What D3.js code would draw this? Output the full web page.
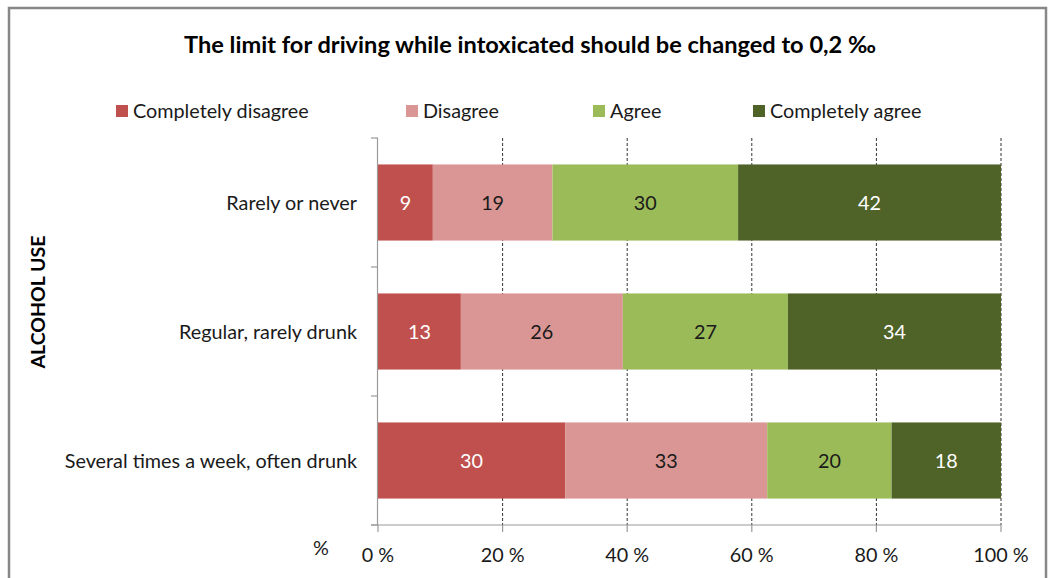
<!DOCTYPE html>
<html>
<head>
<meta charset="utf-8">
<script src="https://cdn.jsdelivr.net/npm/d3@7"></script>
<style>
  html, body { margin: 0; padding: 0; background: #fff; }
  svg { display: block; font-family: Lato, "Open Sans", sans-serif; }
</style>
</head>
<body>
<svg id="chart" width="1048" height="578"></svg>
<script>
// ---- data ----
const title = "The limit for driving while intoxicated should be changed to 0,2 \u2030";
const categories = ["Rarely or never", "Regular, rarely drunk", "Several times a week, often drunk"];
const seriesNames = ["Completely disagree", "Disagree", "Agree", "Completely agree"];
const completelyDisagree = [8.8, 13.3, 30.1];
const disagree = [19.2, 26.0, 32.5];
const agree = [29.8, 26.5, 20.0];
const completelyAgree = [42.2, 34.2, 17.6];
const xTicks = [0, 20, 40, 60, 80, 100];
const colors = ["#C0504D", "#D99694", "#9BBB59", "#4F6228"];
const labelColors = ["#ffffff", "#1a1a1a", "#1a1a1a", "#ffffff"];
const yAxisTitle = "ALCOHOL USE";
const xAxisTitle = "%";

const seriesValues = [completelyDisagree, disagree, agree, completelyAgree];
const rows = categories.map((c, i) => {
  const r = { category: c };
  seriesNames.forEach((s, j) => r[s] = seriesValues[j][i]);
  return r;
});

const svg = d3.select("#chart");
const plot = { left: 378, right: 1001, top: 138, bottom: 525 };
const fs = 19.8;

// frame
svg.append("rect").attr("x", 9).attr("y", 8).attr("width", 1037).attr("height", 600)
  .attr("fill", "#fff").attr("stroke", "#878787").attr("stroke-width", 2.5);

// title
svg.append("text").attr("x", 530).attr("y", 53).attr("text-anchor", "middle")
  .attr("font-size", 23.6).attr("font-weight", "bold").attr("fill", "#000").text(title);

// legend
const legendX = [116, 406, 593, 753];
const lg = svg.append("g");
seriesNames.forEach((s, i) => {
  lg.append("rect").attr("x", legendX[i]).attr("y", 105).attr("width", 12).attr("height", 12).attr("fill", colors[i]);
  lg.append("text").attr("x", legendX[i] + 17).attr("y", 118).attr("font-size", fs).attr("fill", "#1a1a1a").text(s);
});

// scales
const x = d3.scaleLinear().domain([0, 100]).range([plot.left, plot.right]);
const y = d3.scaleBand().domain(categories).range([plot.top, plot.bottom]).paddingInner(0.41).paddingOuter(0.205);

// gridlines
svg.append("g").selectAll("line").data(xTicks.filter(t => t > 0)).join("line")
  .attr("x1", d => x(d)).attr("x2", d => x(d))
  .attr("y1", plot.top).attr("y2", plot.bottom)
  .attr("stroke", "#333").attr("stroke-width", 1).attr("stroke-dasharray", "3,2");

// stacked bars
const stack = d3.stack().keys(seriesNames).offset(d3.stackOffsetExpand);
const stacked = stack(rows);
const gBars = svg.append("g");
stacked.forEach((layer, li) => {
  const g = gBars.append("g");
  g.selectAll("rect").data(layer).join("rect")
    .attr("x", d => x(d[0] * 100)).attr("width", d => x(d[1] * 100) - x(d[0] * 100))
    .attr("y", d => y(d.data.category)).attr("height", y.bandwidth())
    .attr("fill", colors[li]);
  g.selectAll("text").data(layer).join("text")
    .attr("x", d => (x(d[0] * 100) + x(d[1] * 100)) / 2)
    .attr("y", d => y(d.data.category) + y.bandwidth() / 2 + 7)
    .attr("text-anchor", "middle").attr("font-size", fs).attr("fill", labelColors[li])
    .text(d => Math.round(d.data[layer.key]));
});

// axes lines
const axisColor = "#9a9a9a";
svg.append("line").attr("x1", plot.left - 0.5).attr("x2", plot.left - 0.5).attr("y1", plot.top).attr("y2", plot.bottom)
  .attr("stroke", axisColor).attr("stroke-width", 1.2);
svg.append("line").attr("x1", plot.left - 7).attr("x2", plot.right).attr("y1", plot.bottom).attr("y2", plot.bottom)
  .attr("stroke", axisColor).attr("stroke-width", 1.2);

// y-axis ticks at band boundaries
const step = y.step();
const yBounds = d3.range(categories.length + 1).map(i => plot.top + i * step);
svg.append("g").selectAll("line").data(yBounds).join("line")
  .attr("x1", plot.left - 7).attr("x2", plot.left).attr("y1", d => d).attr("y2", d => d)
  .attr("stroke", axisColor).attr("stroke-width", 1.2);

// x-axis ticks
svg.append("g").selectAll("line").data(xTicks).join("line")
  .attr("x1", d => x(d)).attr("x2", d => x(d)).attr("y1", plot.bottom).attr("y2", plot.bottom + 7)
  .attr("stroke", axisColor).attr("stroke-width", 1.2);
svg.append("g").selectAll("text").data(xTicks).join("text")
  .attr("x", d => x(d)).attr("y", 562).attr("text-anchor", "middle")
  .attr("font-size", fs).attr("fill", "#1a1a1a").text(d => d + " %");

// category labels
svg.append("g").selectAll("text").data(categories).join("text")
  .attr("x", 357).attr("y", d => y(d) + y.bandwidth() / 2 + 7).attr("text-anchor", "end")
  .attr("font-size", fs).attr("fill", "#1a1a1a").text(d => d);

// axis titles
svg.append("text").attr("transform", "translate(45,302) rotate(-90)").attr("text-anchor", "middle")
  .attr("font-size", 19.5).attr("font-weight", "bold").attr("fill", "#000").text(yAxisTitle);
svg.append("text").attr("x", 321).attr("y", 555).attr("text-anchor", "middle")
  .attr("font-size", fs).attr("fill", "#1a1a1a").text(xAxisTitle);
</script>
</body>
</html>
